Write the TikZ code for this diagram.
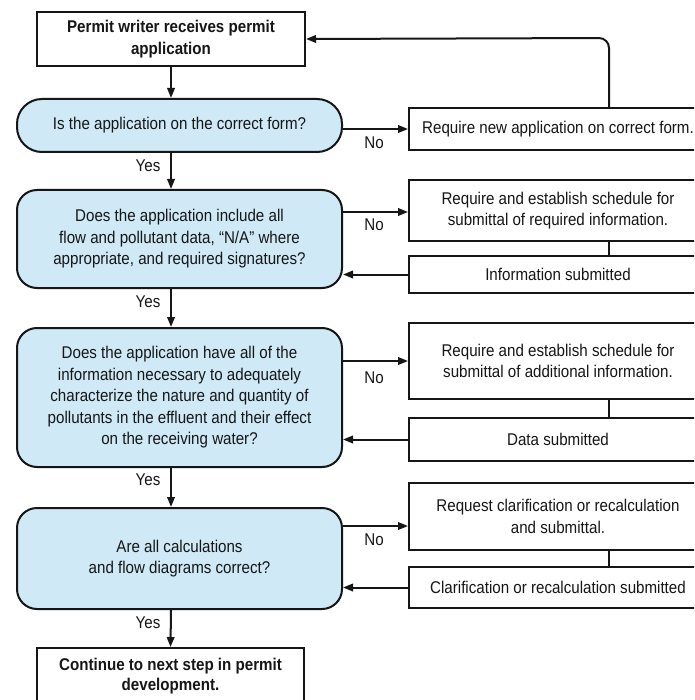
\documentclass[tikz,border=0pt]{standalone}
\usepackage{fontspec}
\setmainfont[FakeStretch=0.89]{Liberation Sans}
\usetikzlibrary{arrows.meta,calc}
\definecolor{decfill}{RGB}{207,233,246}
\definecolor{ink}{RGB}{22,22,22}
\tikzset{
  base/.style={draw=ink, line width=2pt, align=center, inner sep=0pt, text=ink,
    font=\fontsize{17}{21.5}\selectfont},
  procbox/.style={base, fill=white},
  decbox/.style={base, fill=decfill, rounded corners=20pt, minimum width=325pt},
  sidebox/.style={base, fill=white, minimum width=298pt},
  arr/.style={draw=ink, line width=2pt, -{Triangle[length=10pt,width=7.5pt]}},
  link/.style={draw=ink, line width=2pt},
  lbl/.style={text=ink, font=\fontsize{17}{20}\selectfont, inner sep=0pt}
}
\begin{document}
\begin{tikzpicture}[x=1pt,y=-1pt]
\useasboundingbox (0,0) rectangle (694,700);
\fill[white] (0,0) rectangle (694,700);
\clip (0,0) rectangle (694,700);

% left column
\node[procbox, minimum width=268pt, minimum height=54pt, font=\fontsize{17}{21.5}\selectfont\bfseries]
  (start) at (171,39) {Permit writer receives permit\\application};
\node[decbox, rounded corners=25pt, minimum height=53pt] (d1) at (179.5,125.5)
  {Is the application on the correct form?};
\node[decbox, minimum height=98pt] (d2) at (179.5,239)
  {Does the application include all\\flow and pollutant data, “N/A” where\\appropriate, and required signatures?};
\node[decbox, minimum height=139pt] (d3) at (179.5,397.5)
  {Does the application have all of the\\information necessary to adequately\\characterize the nature and quantity of\\pollutants in the effluent and their effect\\on the receiving water?};
\node[decbox, minimum height=101pt] (d4) at (179.5,558.5)
  {Are all calculations\\and flow diagrams correct?};
\node[procbox, minimum width=267pt, minimum height=56pt, font=\fontsize{17}{20}\selectfont\bfseries]
  (finish) at (170.5,676) {Continue to next step in permit\\development.};

% right column
\node[sidebox, minimum height=42pt] (r1) at (558,129) {Require new application on correct form.};
\node[sidebox, minimum height=61pt] (r2a) at (558,210.5) {Require and establish schedule for\\submittal of required information.};
\node[sidebox, minimum height=37pt] (r2b) at (558,274.5) {Information submitted};
\node[sidebox, minimum height=76pt] (r3a) at (558,361) {Require and establish schedule for\\submittal of additional information.};
\node[sidebox, minimum height=43pt] (r3b) at (558,439.5) {Data submitted};
\node[sidebox, minimum height=67pt] (r4a) at (558,516.5) {Request clarification or recalculation\\and submittal.};
\node[sidebox, minimum height=41pt] (r4b) at (558,587.5) {Clarification or recalculation submitted};

% vertical flow
\draw[arr] (start.south) -- (start.south |- d1.north);
\draw[arr] (start.south |- d1.south) -- (start.south |- d2.north);
\draw[arr] (start.south |- d2.south) -- (start.south |- d3.north);
\draw[arr] (start.south |- d3.south) -- (start.south |- d4.north);
\draw[arr] (start.south |- d4.south) -- (finish.north);

% Yes labels
\node[lbl] (y1) at (148,166) {Yes};
\node[lbl] (y2) at (148,302) {Yes};
\node[lbl] (y3) at (148,480) {Yes};
\node[lbl] (y4) at (148,623) {Yes};

% No arrows
\coordinate (a2) at ($(r2a.west)+(0,1.5)$);
\coordinate (a4) at ($(r4a.west)+(0,9.5)$);
\draw[arr] (r1.west -| d1.east) -- (r1.west);
\draw[arr] (a2 -| d2.east) -- (a2);
\draw[arr] (r3a.west -| d3.east) -- (r3a.west);
\draw[arr] (a4 -| d4.east) -- (a4);
\node[lbl] (n1) at (374,143) {No};
\node[lbl] (n2) at (374,225) {No};
\node[lbl] (n3) at (374,378) {No};
\node[lbl] (n4) at (374,540) {No};

% return arrows
\draw[arr] (r2b.west) -- (r2b.west -| d2.east);
\draw[arr] (r3b.west) -- (r3b.west -| d3.east);
\draw[arr] (r4b.west) -- (r4b.west -| d4.east);

% links between side boxes
\coordinate (cx) at (608.5,0);
\draw[link] (r2a.south -| cx) -- (r2b.north -| cx);
\draw[link] (r3a.south -| cx) -- (r3b.north -| cx);
\draw[link] (r4a.south -| cx) -- (r4b.north -| cx);

% loop back
\coordinate (lx) at (609,38);
\draw[arr, rounded corners=10pt] (r1.north -| lx) -- (lx) -- (start.east);
\end{tikzpicture}
\end{document}
